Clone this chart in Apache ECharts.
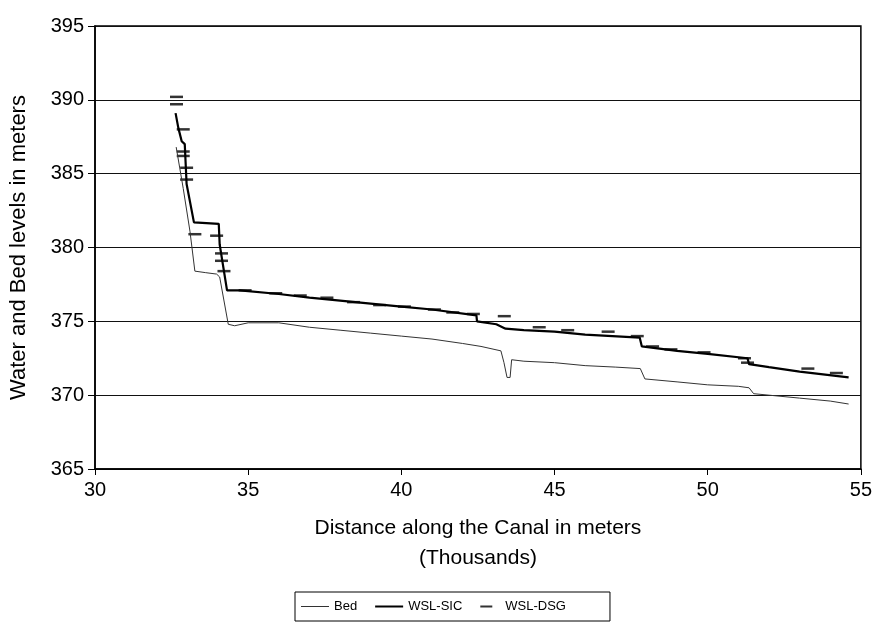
<!DOCTYPE html>
<html>
<head>
<meta charset="utf-8">
<script src="https://cdn.jsdelivr.net/npm/echarts@6/dist/echarts.min.js"></script>
<style>
html, body { margin: 0; padding: 0; background: #fff; }
#chart { width: 875px; height: 632px; }
</style>
</head>
<body>
<div id="chart"></div>
<script>
// distances in thousands of meters, levels in meters
var bedDist = [32.65, 32.88, 33.1, 33.26, 33.6, 33.97, 34.07, 34.35, 34.56, 35, 36, 37, 38, 39, 40, 41, 42, 42.6, 43.25, 43.35, 43.45, 43.55, 43.6, 44, 45, 46, 47, 47.8, 47.95, 49, 50, 51, 51.35, 51.5, 52, 53, 54, 54.6];
var bedLevel = [386.8, 384.0, 381.1, 378.4, 378.3, 378.2, 378.0, 374.8, 374.7, 374.9, 374.9, 374.6, 374.4, 374.2, 374.0, 373.8, 373.5, 373.3, 373.0, 372.2, 371.2, 371.2, 372.4, 372.3, 372.2, 372.0, 371.9, 371.8, 371.1, 370.9, 370.7, 370.6, 370.5, 370.1, 370.0, 369.8, 369.6, 369.4];

var sicDist = [32.63, 32.72, 32.83, 32.93, 32.99, 33.23, 34.04, 34.07, 34.31, 34.73, 36, 37, 38, 39, 40, 41, 42.45, 42.47, 43.1, 43.4, 44, 45, 46, 47.78, 47.85, 49, 50, 51.3, 51.35, 52, 53, 54.6];
var sicLevel = [389.1, 388.1, 387.2, 387.0, 384.3, 381.7, 381.6, 380.2, 377.1, 377.1, 376.85, 376.6, 376.4, 376.2, 376.0, 375.8, 375.4, 375.0, 374.8, 374.5, 374.4, 374.3, 374.1, 373.9, 373.3, 373.0, 372.8, 372.5, 372.1, 371.9, 371.6, 371.2];

var dsgDist = [32.66, 32.66, 32.88, 32.88, 32.88, 32.99, 32.99, 33.26, 33.97, 34.13, 34.13, 34.21, 34.9, 35.9, 36.7, 37.57, 38.44, 39.29, 40.1, 41.08, 41.68, 42.35, 43.36, 44.5, 45.43, 46.75, 47.7, 48.2, 48.8, 49.88, 51.2, 51.3, 53.27, 54.2];
var dsgLevel = [390.2, 389.7, 388.0, 386.5, 386.2, 385.4, 384.6, 380.9, 380.8, 379.6, 379.1, 378.4, 377.1, 376.9, 376.75, 376.6, 376.3, 376.1, 376.0, 375.8, 375.6, 375.5, 375.35, 374.6, 374.4, 374.3, 374.0, 373.3, 373.1, 372.9, 372.5, 372.2, 371.8, 371.5];

function pairs(xs, ys) {
    var out = [];
    for (var i = 0; i < xs.length; i++) {
        out.push([xs[i], ys[i]]);
    }
    return out;
}

var font = 'Liberation Sans, Arial, sans-serif';
var myChart = echarts.init(document.getElementById('chart'));

// legend icons: plain lines, and a short dash for the DSG points
var thinIcon = 'path://M0,0 L0,0 M0,5.5 L28,5.5 L28,6.5 L0,6.5 Z M0,12 L0,12';
var thickIcon = 'path://M0,0 L0,0 M0,5 L28,5 L28,7 L0,7 Z M0,12 L0,12';
var dashIcon = 'path://M0,0 L0,0 M0,5 L12,5 L12,7 L0,7 Z M0,12 L0,12';

var option = {
    animation: false,
    backgroundColor: '#fff',
    textStyle: { fontFamily: font, color: '#000' },
    grid: {
        left: 95, right: 12, top: 26, bottom: 163,
        show: true, borderColor: '#000', borderWidth: 1.5
    },
    xAxis: {
        type: 'value', min: 30, max: 55, interval: 5,
        name: 'Distance along the Canal in meters\n(Thousands)',
        nameLocation: 'middle', nameGap: 44,
        nameTextStyle: { fontSize: 21, color: '#000', fontFamily: font, lineHeight: 30 },
        axisLine: { lineStyle: { color: '#000', width: 1.5 } },
        axisTick: { show: true, inside: false, length: 6, lineStyle: { color: '#000' } },
        axisLabel: { fontSize: 20, color: '#000', margin: 11, fontFamily: font },
        splitLine: { show: false }
    },
    yAxis: {
        type: 'value', min: 365, max: 395, interval: 5,
        name: 'Water and Bed levels in meters',
        nameLocation: 'middle', nameGap: 65, nameRotate: 90,
        nameTextStyle: { fontSize: 22, color: '#000', fontFamily: font },
        axisLine: { show: true, lineStyle: { color: '#000', width: 1.5 } },
        axisTick: { show: true, inside: false, length: 7, lineStyle: { color: '#000' } },
        axisLabel: { fontSize: 20, color: '#000', margin: 11, fontFamily: font },
        splitLine: { show: true, lineStyle: { color: '#111', width: 1.2 } }
    },
    legend: {
        left: 295, top: 592,
        itemWidth: 28, itemHeight: 12, itemGap: 18,
        symbolKeepAspect: true,
        padding: [8, 44, 8, 6],
        borderColor: '#000', borderWidth: 1,
        textStyle: { fontSize: 13, color: '#000', fontFamily: font },
        data: [
            { name: 'Bed', icon: thinIcon },
            { name: 'WSL-SIC', icon: thickIcon },
            { name: 'WSL-DSG', icon: dashIcon }
        ]
    },
    series: [
        {
            name: 'Bed', type: 'line', symbol: 'none',
            lineStyle: { color: '#333', width: 1 },
            itemStyle: { color: '#333' },
            data: pairs(bedDist, bedLevel)
        },
        {
            name: 'WSL-SIC', type: 'line', symbol: 'none',
            lineStyle: { color: '#000', width: 2.2 },
            itemStyle: { color: '#000' },
            data: pairs(sicDist, sicLevel)
        },
        {
            name: 'WSL-DSG', type: 'scatter',
            symbol: 'rect', symbolSize: [13, 2.5],
            itemStyle: { color: '#000' },
            data: pairs(dsgDist, dsgLevel)
        }
    ]
};
myChart.setOption(option);
</script>
</body>
</html>
